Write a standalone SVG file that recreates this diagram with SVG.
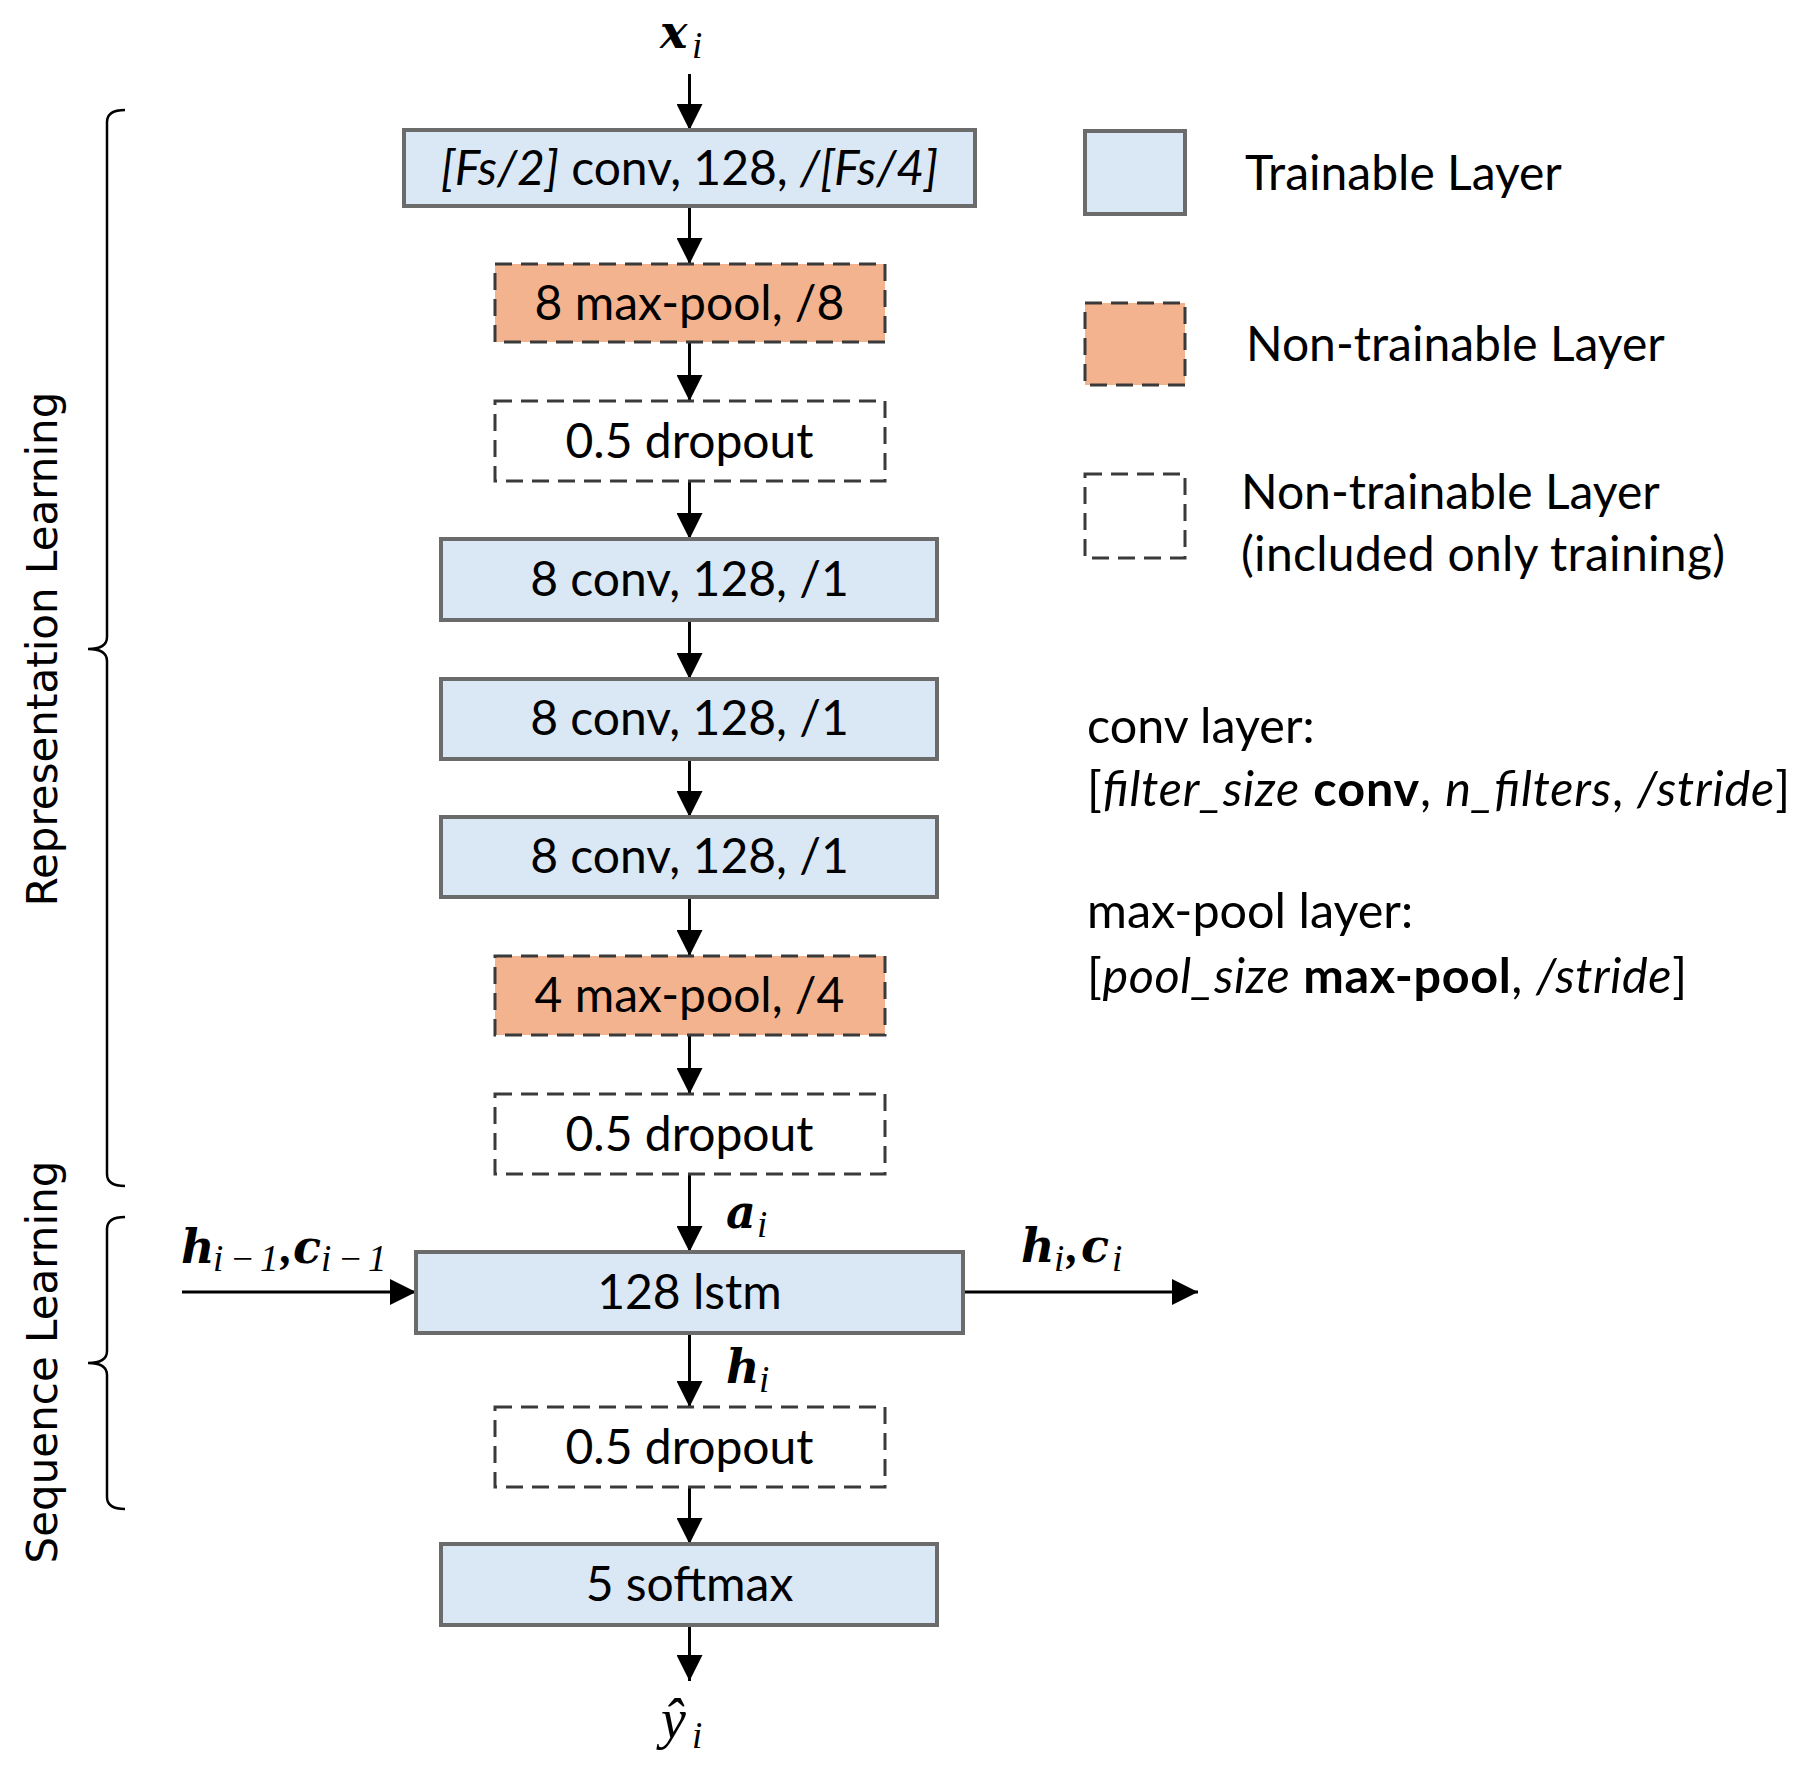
<svg xmlns="http://www.w3.org/2000/svg" width="1814" height="1776" viewBox="0 0 1814 1776">
<defs>
<style>
.tr{fill:#DAE7F4;stroke:#6B6B6B;stroke-width:4}
.nt{fill:#F3B38F;stroke:#3A3A3A;stroke-width:3;stroke-dasharray:17 9}
.dr{fill:#FFFFFF;stroke:#3A3A3A;stroke-width:3;stroke-dasharray:17 9}
.lbl{font-family:Lato,"Liberation Sans",sans-serif;font-size:48px;fill:#000;text-anchor:middle}
.txt{font-family:Lato,"Liberation Sans",sans-serif;font-size:48px;fill:#000}
.note{font-family:Lato,"Liberation Sans",sans-serif;font-size:48.5px;fill:#000}
.side{font-family:"DejaVu Sans",Verdana,sans-serif;font-size:42px;fill:#000;text-anchor:middle}
.m{font-family:"DejaVu Serif","Liberation Serif",serif;font-style:italic;font-weight:bold;font-size:46px;fill:#000}
.ms{font-family:"Liberation Serif","DejaVu Serif",serif;font-style:italic;font-weight:normal;font-size:37px}
.cm{font-family:"Liberation Serif",serif;font-weight:bold}
.con{stroke:#000;stroke-width:3;fill:none}
.br{stroke:#000;stroke-width:2.5;fill:none}
</style>
<marker id="ah" markerWidth="26" markerHeight="26" viewBox="0 0 26 26" refX="26" refY="13" orient="auto" markerUnits="userSpaceOnUse">
<path d="M0,0 L26,13 L0,26 Z" fill="#000"/>
</marker>
</defs>
<rect width="1814" height="1776" fill="#FFFFFF"/>

<g id="connectors">
<line class="con" x1="689.5" y1="74" x2="689.5" y2="130" marker-end="url(#ah)"/>
<line class="con" x1="689.5" y1="206" x2="689.5" y2="264" marker-end="url(#ah)"/>
<line class="con" x1="689.5" y1="342" x2="689.5" y2="401" marker-end="url(#ah)"/>
<line class="con" x1="689.5" y1="481" x2="689.5" y2="539" marker-end="url(#ah)"/>
<line class="con" x1="689.5" y1="620" x2="689.5" y2="679" marker-end="url(#ah)"/>
<line class="con" x1="689.5" y1="759" x2="689.5" y2="817" marker-end="url(#ah)"/>
<line class="con" x1="689.5" y1="897" x2="689.5" y2="956" marker-end="url(#ah)"/>
<line class="con" x1="689.5" y1="1035" x2="689.5" y2="1094" marker-end="url(#ah)"/>
<line class="con" x1="689.5" y1="1174" x2="689.5" y2="1252" marker-end="url(#ah)"/>
<line class="con" x1="689.5" y1="1333" x2="689.5" y2="1407" marker-end="url(#ah)"/>
<line class="con" x1="689.5" y1="1487" x2="689.5" y2="1544" marker-end="url(#ah)"/>
<line class="con" x1="689.5" y1="1625" x2="689.5" y2="1681" marker-end="url(#ah)"/>
<line class="con" x1="182" y1="1292" x2="416" y2="1292" marker-end="url(#ah)"/>
<line class="con" x1="963" y1="1292" x2="1198" y2="1292" marker-end="url(#ah)"/>
</g>

<g id="n1"><rect class="tr" x="404" y="130" width="571" height="76"/>
<text class="lbl" x="689.5" y="185"><tspan font-style="italic">[Fs/2]</tspan> conv, 128, <tspan font-style="italic">/[Fs/4]</tspan></text></g>
<g id="n2"><rect class="nt" x="495" y="264" width="390" height="78"/>
<text class="lbl" x="689.5" y="320">8 max-pool, /8</text></g>
<g id="n3"><rect class="dr" x="495" y="401" width="390" height="80"/>
<text class="lbl" x="689.5" y="458">0.5 dropout</text></g>
<g id="n4"><rect class="tr" x="441" y="539" width="496" height="81"/>
<text class="lbl" x="689.5" y="596">8 conv, 128, /1</text></g>
<g id="n5"><rect class="tr" x="441" y="679" width="496" height="80"/>
<text class="lbl" x="689.5" y="735">8 conv, 128, /1</text></g>
<g id="n6"><rect class="tr" x="441" y="817" width="496" height="80"/>
<text class="lbl" x="689.5" y="873">8 conv, 128, /1</text></g>
<g id="n7"><rect class="nt" x="495" y="956" width="390" height="79"/>
<text class="lbl" x="689.5" y="1012">4 max-pool, /4</text></g>
<g id="n8"><rect class="dr" x="495" y="1094" width="390" height="80"/>
<text class="lbl" x="689.5" y="1151">0.5 dropout</text></g>
<g id="n9"><rect class="tr" x="416" y="1252" width="547" height="81"/>
<text class="lbl" x="689.5" y="1309">128 lstm</text></g>
<g id="n10"><rect class="dr" x="495" y="1407" width="390" height="80"/>
<text class="lbl" x="689.5" y="1464">0.5 dropout</text></g>
<g id="n11"><rect class="tr" x="441" y="1544" width="496" height="81"/>
<text class="lbl" x="689.5" y="1601">5 softmax</text></g>

<g id="math">
<text class="m" x="660" y="48">x<tspan class="ms" x="692" y="58">i</tspan></text>
<text class="m" x="726" y="1228">a<tspan class="ms" x="757" y="1237">i</tspan></text>
<text class="m" x="726" y="1383">h<tspan class="ms" x="759" y="1392">i</tspan></text>
<text class="m" x="181" y="1263">h<tspan class="ms" x="213" y="1271">i</tspan><tspan class="ms" x="230" y="1271">−</tspan><tspan class="ms" x="260" y="1271">1</tspan><tspan class="cm" x="281" y="1263">,</tspan><tspan x="293" y="1263">c</tspan><tspan class="ms" x="321" y="1271">i</tspan><tspan class="ms" x="338" y="1271">−</tspan><tspan class="ms" x="368" y="1271">1</tspan></text>
<text class="m" x="1021" y="1262">h<tspan class="ms" x="1054" y="1271">i</tspan><tspan class="cm" x="1067" y="1262">,</tspan><tspan x="1081" y="1262">c</tspan><tspan class="ms" x="1112" y="1271">i</tspan></text>
<text x="661" y="1738" font-family="'Liberation Serif',serif" font-style="italic" font-size="56">ŷ<tspan font-size="37" x="692" y="1748">i</tspan></text>
</g>

<g id="braces">
<path class="br" d="M125,110 Q107,110 107,122 L107,637 Q107,649 88,649 Q107,649 107,661 L107,1174 Q107,1186 125,1186"/>
<path class="br" d="M125,1217 Q107,1217 107,1229 L107,1351 Q107,1363 88,1363 Q107,1363 107,1375 L107,1497 Q107,1509 125,1509"/>
<text class="side" transform="translate(57,649) rotate(-90)">Representation Learning</text>
<text class="side" transform="translate(57,1362) rotate(-90)">Sequence Learning</text>
</g>

<g id="legend">
<rect class="tr" x="1085" y="131" width="100" height="83"/>
<text class="txt" x="1245" y="190">Trainable Layer</text>
<rect class="nt" x="1085" y="303" width="100" height="82"/>
<text class="txt" x="1246" y="361">Non-trainable Layer</text>
<rect class="dr" x="1085" y="474" width="100" height="84"/>
<text class="txt" x="1241" y="509">Non-trainable Layer</text>
<text class="txt" x="1241" y="571" textLength="484" lengthAdjust="spacing">(included only training)</text>
</g>

<g id="notes">
<text class="note" x="1087" y="743">conv layer:</text>
<text class="note" x="1087" y="806" textLength="703" lengthAdjust="spacing">[<tspan font-style="italic">filter_size</tspan> <tspan font-weight="bold">conv</tspan>, <tspan font-style="italic">n_filters</tspan>, <tspan font-style="italic">/stride</tspan>]</text>
<text class="note" x="1087" y="928">max-pool layer:</text>
<text class="note" x="1087" y="993" textLength="600" lengthAdjust="spacing">[<tspan font-style="italic">pool_size</tspan> <tspan font-weight="bold">max-pool</tspan>, <tspan font-style="italic">/stride</tspan>]</text>
</g>
</svg>
